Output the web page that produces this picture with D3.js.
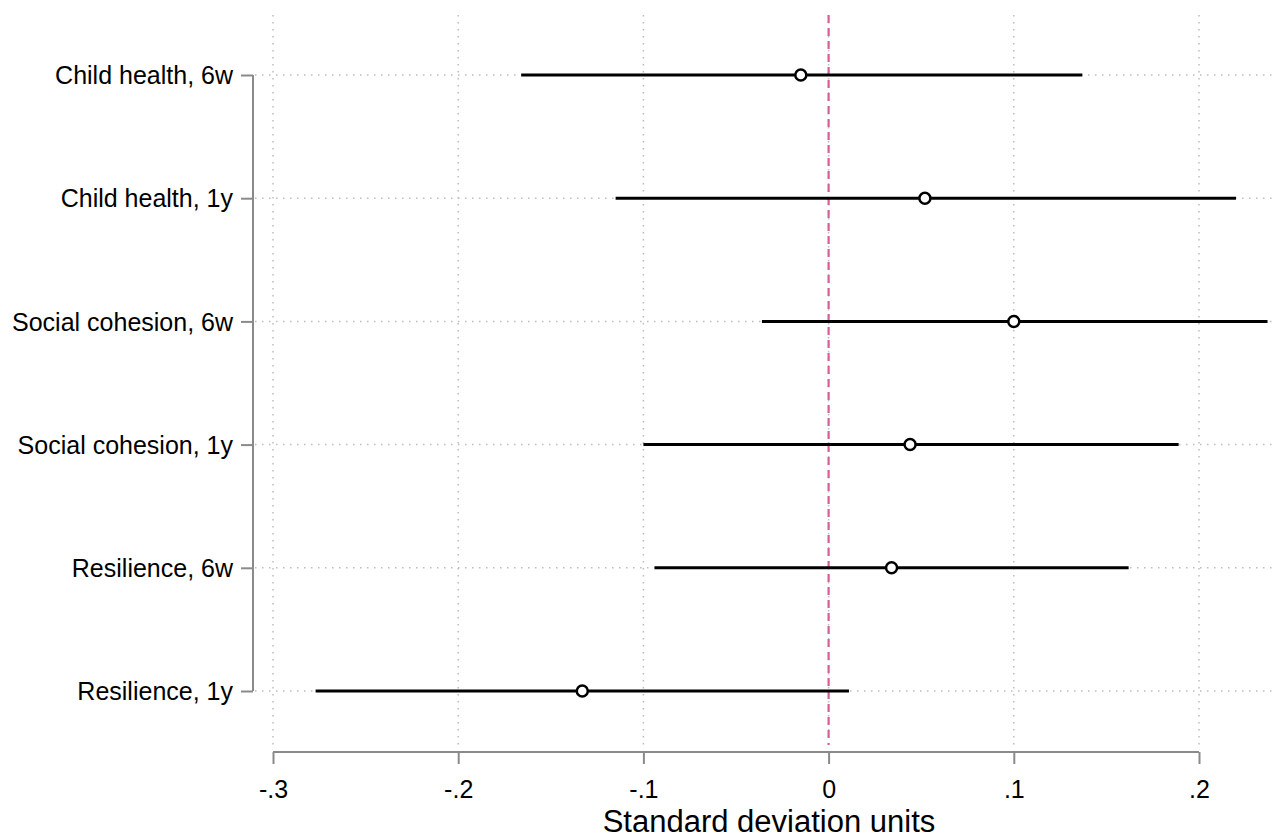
<!DOCTYPE html>
<html>
<head>
<meta charset="utf-8">
<script src="https://cdn.jsdelivr.net/npm/d3@7"></script>
<style>
  body { margin: 0; background: #fff; }
  text { font-family: Arial, "Liberation Sans", sans-serif; fill: #000; }
</style>
</head>
<body>
<svg id="chart" width="1278" height="839"></svg>
<script>
// outcomes, top to bottom
const outcomes = ["Child health, 6w", "Child health, 1y", "Social cohesion, 6w",
                  "Social cohesion, 1y", "Resilience, 6w", "Resilience, 1y"];
// point estimates and 95% CI bounds (SD units)
const estimates = [-0.015, 0.052, 0.100, 0.044, 0.034, -0.133];
const lowerCI   = [-0.166, -0.115, -0.036, -0.100, -0.094, -0.277];
const upperCI   = [0.137, 0.220, 0.237, 0.189, 0.162, 0.011];
const xTicks    = [-0.3, -0.2, -0.1, 0, 0.1, 0.2];

const svg = d3.select("#chart");

const plot = {left: 253, right: 1277, top: 15, bottom: 745};

const x = d3.scaleLinear().domain([-0.3, 0.2]).range([273, 1199]);
const y = d3.scalePoint().domain(outcomes).range([75, 691]);

const grid = "#bdbdbd";

// vertical dotted gridlines
svg.append("g").selectAll("line")
    .data(xTicks)
  .enter().append("line")
    .attr("x1", d => x(d)).attr("x2", d => x(d))
    .attr("y1", plot.top).attr("y2", plot.bottom)
    .style("stroke", grid)
    .style("stroke-width", 1.5)
    .style("stroke-dasharray", "1.5,5.5");

// horizontal dotted gridlines
svg.append("g").selectAll("line")
    .data(outcomes)
  .enter().append("line")
    .attr("x1", plot.left + 2).attr("x2", plot.right)
    .attr("y1", d => y(d)).attr("y2", d => y(d))
    .style("stroke", grid)
    .style("stroke-width", 1.5)
    .style("stroke-dasharray", "1.5,5.5");

// zero reference line
svg.append("line")
    .attr("x1", x(0)).attr("x2", x(0))
    .attr("y1", plot.top).attr("y2", plot.bottom)
    .style("stroke", "#d3609b")
    .style("stroke-width", 2.2)
    .style("stroke-dasharray", "8,5");

const data = outcomes.map((o, i) => ({name: o, est: estimates[i], lo: lowerCI[i], hi: upperCI[i]}));

// CI bars
svg.append("g").selectAll("line")
    .data(data)
  .enter().append("line")
    .attr("x1", d => x(d.lo)).attr("x2", d => x(d.hi))
    .attr("y1", d => y(d.name)).attr("y2", d => y(d.name))
    .style("stroke", "#000")
    .style("stroke-width", 3);

// point estimates
svg.append("g").selectAll("circle")
    .data(data)
  .enter().append("circle")
    .attr("cx", d => x(d.est))
    .attr("cy", d => y(d.name))
    .attr("r", 5.5)
    .style("fill", "#fff")
    .style("stroke", "#000")
    .style("stroke-width", 2.5);

// y axis
const yAxis = svg.append("g")
    .attr("transform", "translate(" + plot.left + ",0)")
    .call(d3.axisLeft(y).tickSize(12).tickPadding(8));
yAxis.select(".domain").attr("d", "M0," + y(outcomes[0]) + "V" + y(outcomes[outcomes.length - 1]));
yAxis.selectAll("path, line").style("stroke", "#8a8a8a").style("stroke-width", 2);
yAxis.selectAll("text").style("font-size", "25px").attr("dy", "0.35em");

// x axis, stata-style labels like "-.3"
const fmt = d => d === 0 ? "0" : d3.format(".1f")(d).replace("\u2212", "-").replace("0.", ".");
const xAxis = svg.append("g")
    .attr("transform", "translate(0,752)")
    .call(d3.axisBottom(x).tickValues(xTicks).tickSize(12).tickPadding(16).tickFormat(fmt));
xAxis.select(".domain").attr("d", "M" + x(-0.3) + ",0H" + x(0.2));
xAxis.selectAll("path, line").style("stroke", "#8a8a8a").style("stroke-width", 2);
xAxis.selectAll("text").style("font-size", "25px");

// axis title
svg.append("text")
    .attr("x", 769)
    .attr("y", 832)
    .attr("text-anchor", "middle")
    .style("font-size", "31px")
    .text("Standard deviation units");
</script>
</body>
</html>
